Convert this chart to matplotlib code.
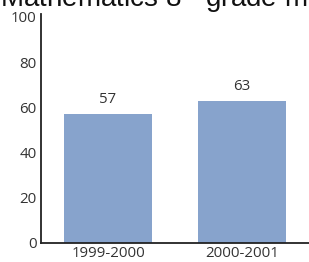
import matplotlib
matplotlib.use("Agg")
import matplotlib.pyplot as plt

categories = ["1999-2000", "2000-2001"]
values = [57, 63]
yticks = [0, 20, 40, 60, 80, 100]

plt.rcParams['mathtext.fontset'] = 'custom'
plt.rcParams['mathtext.rm'] = 'Liberation Sans'

W, H = 309, 262
fig = plt.figure(figsize=(W / 100, H / 100), dpi=100)
ax = fig.add_axes([41 / W, (H - 243) / H, (W - 41) / W, (243 - 17) / H])

x = list(range(len(categories)))
bars = ax.bar(x, values, width=0.65, color="#87a3cc")
ax.set_xlim(-0.5, 1.5)
ax.set_ylim(0, 100)

tick_font = dict(family="Open Sans", size=10.8, color="#333333")
ax.set_xticks(x)
ax.set_xticklabels(categories, fontdict=tick_font)
ax.set_yticks(yticks)
ax.set_yticklabels([str(v) for v in yticks], fontdict=tick_font)
ax.tick_params(axis="x", length=0, pad=2.5)
ax.tick_params(axis="y", length=0, pad=3)

for xi, v in zip(x, values):
    ax.annotate(str(v), (xi, v), xytext=(0, 5), textcoords="offset points",
                ha="center", va="bottom", family="Open Sans", size=10.8, color="#333333")

for s in ["top", "right"]:
    ax.spines[s].set_visible(False)
for s in ["left", "bottom"]:
    ax.spines[s].set_color("#222222")
    ax.spines[s].set_linewidth(1.3)
ax.spines["left"].set_bounds(0, 101.5)

fig.text(0, 1 - 6.5 / H, "Mathematics 8$^{\\mathrm{th}}$ grade math",
         family="Liberation Sans", size=20, va="baseline", ha="left", color="#111111")

fig.savefig("out.png", dpi=100)
